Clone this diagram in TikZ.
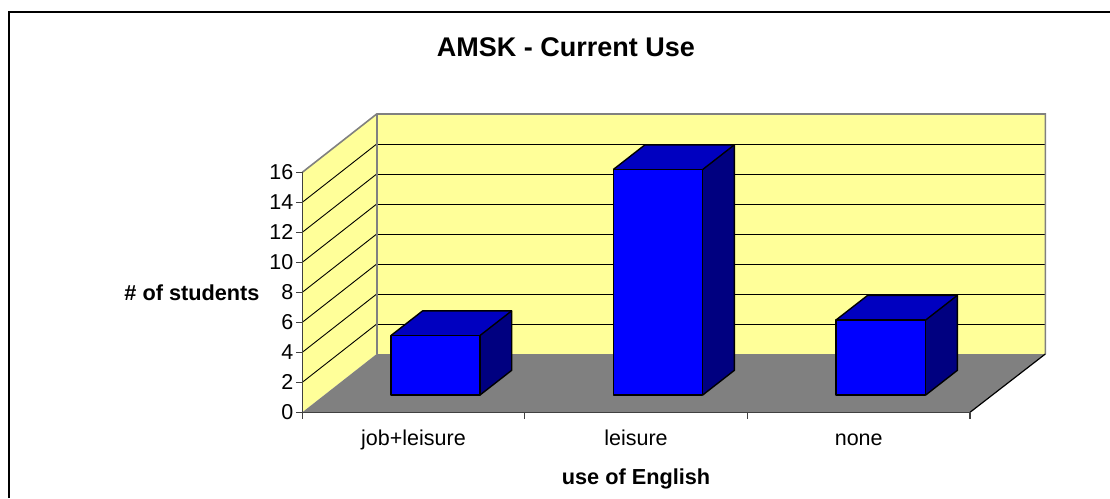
\documentclass[tikz,border=0pt]{standalone}
\usepackage{fontspec}
\setmainfont{Liberation Sans}
\definecolor{wallc}{HTML}{FFFF99}
\definecolor{floorc}{HTML}{808080}
\definecolor{edgec}{HTML}{808080}
\definecolor{barfront}{HTML}{0000FF}
\definecolor{bartop}{HTML}{0000C0}
\definecolor{barside}{HTML}{000080}
\begin{document}
\begin{tikzpicture}[x=1pt,y=-1pt,
  lbl/.style={font=\fontsize{21.5}{24}\selectfont, inner sep=0pt},
  axtitle/.style={font=\fontsize{21.7}{24}\selectfont\bfseries, inner sep=0pt},
  charttitle/.style={font=\fontsize{27}{30}\selectfont\bfseries, inner sep=0pt},
  gridline/.style={black, line width=0.9pt},
  wallborder/.style={edgec, line width=1.6pt},
  axisline/.style={black!75, line width=1.4pt},
  barline/.style={black, line width=1.4pt, line join=round}]
\useasboundingbox (0,0) rectangle (1110,498);
\fill[white] (0,0) rectangle (1110,498);
% outer chart border
\draw[black, line width=1.4pt] (9,498) -- (9,12) -- (1110,12);
% back wall
\fill[wallc] (376.7,114) rectangle (1045.3,354);
\foreach \k in {1,...,7}{
  \draw[gridline] (376.7,{354-30*\k}) -- (1045.3,{354-30*\k});
}
% side wall
\fill[wallc] (302.3,412.3) -- (376.7,354) -- (376.7,114) -- (302.3,172.3) -- cycle;
\foreach \k in {1,...,7}{
  \draw[gridline] (302.3,{412.3-30*\k}) -- (376.7,{354-30*\k});
}
% floor
\fill[floorc] (302.3,412.3) -- (376.7,354) -- (1045.3,354) -- (970,412.3) -- cycle;
% wall borders
\draw[wallborder] (302.3,172.3) -- (376.7,114) -- (1045.3,114) -- (1045.3,354);
\draw[wallborder] (376.7,114) -- (376.7,354);
\draw[black, line width=1.2pt] (1045.3,354) -- (970,412.3);
% axes
\draw[axisline] (302.3,172.3) -- (302.3,412.3) -- (970,412.3);
\foreach \v in {0,2,...,16}{
  \draw[axisline, line width=1.1pt] (296,{412.3-15*\v}) -- (302.3,{412.3-15*\v});
  \node[lbl, anchor=east] (t\v) at (293.5,{412.3-15*\v}) {\v};
}
\foreach \x in {302.3,524.7,747.3,970}{
  \draw[axisline, line width=1.1pt] (\x,412.3) -- (\x,418.5);
}
% bars
\foreach \xl/\xr/\top/\nm in {391/480/335.5/a, 613.3/702.7/169.5/b, 836/925.7/320/c}{
  \fill[barfront] (\xl,395) rectangle (\xr,\top);
  \fill[bartop] (\xl,\top) -- ({\xl+31.7},{\top-24.7}) -- ({\xr+31.7},{\top-24.7}) -- (\xr,\top) -- cycle;
  \fill[barside] (\xr,\top) -- ({\xr+31.7},{\top-24.7}) -- ({\xr+31.7},{395-24.7}) -- (\xr,395) -- cycle;
  \draw[barline] (\xl,395) rectangle (\xr,\top);
  \draw[barline] (\xl,\top) -- ({\xl+31.7},{\top-24.7}) -- ({\xr+31.7},{\top-24.7}) -- ({\xr+31.7},{395-24.7}) -- (\xr,395);
  \draw[barline] (\xr,\top) -- ({\xr+31.7},{\top-24.7});
}
% texts
\node[charttitle] (title) at (566,47.5) {AMSK - Current Use};
\node[axtitle] (ytitle) at (192,292.5) {\# of students};
\node[lbl, anchor=base] (c1) at (413.5,445) {job+leisure};
\node[lbl, anchor=base] (c2) at (636,445) {leisure};
\node[lbl, anchor=base] (c3) at (858.7,445) {none};
\node[axtitle, anchor=base] (xtitle) at (636,484) {use of English};
\end{tikzpicture}
\end{document}
